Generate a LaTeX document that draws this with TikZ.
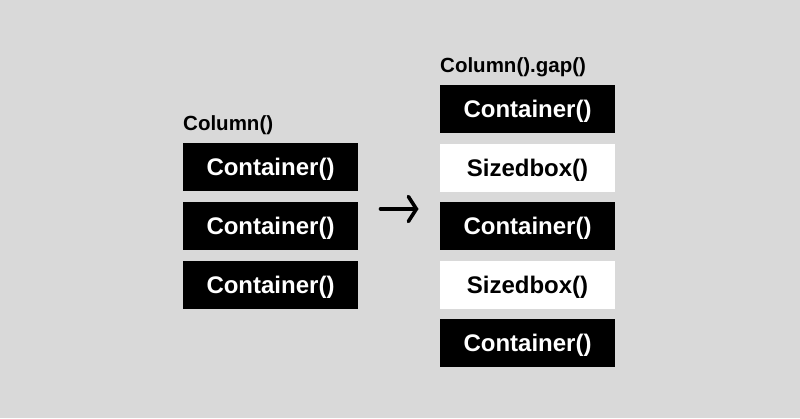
\documentclass[tikz,border=0pt]{standalone}
\usepackage{fontspec}
\setmainfont{Liberation Sans}
\usetikzlibrary{arrows.meta}
\definecolor{bg}{HTML}{D9D9D9}
\tikzset{
  cbox/.style={fill=black,text=white,minimum width=175pt,minimum height=48pt,inner sep=0pt,text height=21pt,text depth=4pt,font=\fontsize{24}{26}\selectfont\bfseries},
  sbox/.style={cbox,fill=white,text=black},
  lbl/.style={anchor=base west,inner sep=0pt,font=\fontsize{20.5}{23}\selectfont\bfseries}
}
\begin{document}
\begin{tikzpicture}[x=1pt,y=-1pt]
\fill[bg] (0,0) rectangle (800,418);
\useasboundingbox (0,0) rectangle (800,418);
\node[lbl] (l1) at (183,130) {Column()};
\node[cbox] (a1) at (270.5,167) {Container()};
\node[cbox] (a2) at (270.5,226) {Container()};
\node[cbox] (a3) at (270.5,285) {Container()};
\node[lbl] (l2) at (440,72) {Column().gap()};
\node[cbox] (b1) at (527.5,109) {Container()};
\node[sbox] (b2) at (527.5,168) {Sizedbox()};
\node[cbox] (b3) at (527.5,226) {Container()};
\node[sbox] (b4) at (527.5,284.5) {Sizedbox()};
\node[cbox] (b5) at (527.5,343) {Container()};
\coordinate (s) at (380.5,209);
\coordinate (e) at (418.5,209);
\draw[line width=3.6pt,line cap=round,-{Straight Barb[length=8pt,width=25pt,line cap=round]}] (s) -- (e);
\end{tikzpicture}
\end{document}
